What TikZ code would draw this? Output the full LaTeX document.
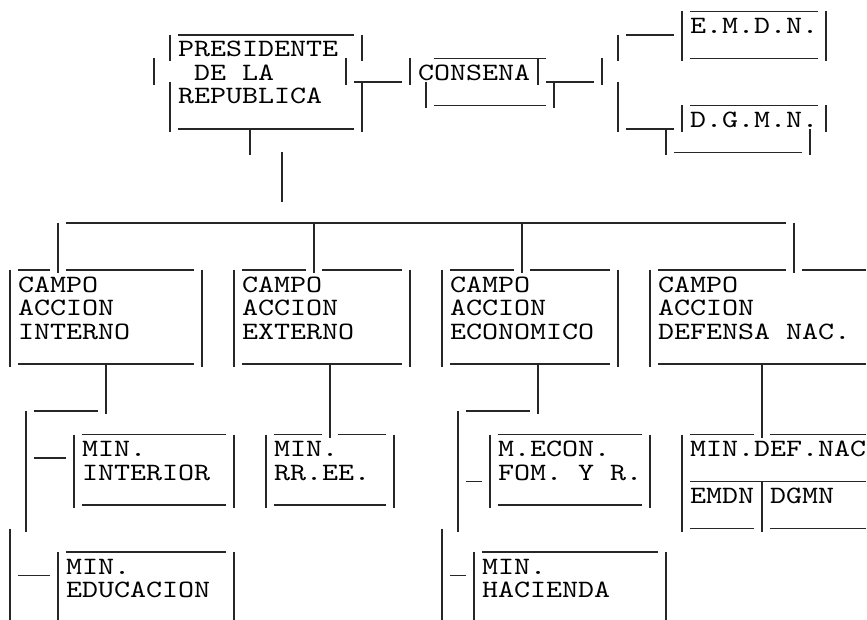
\documentclass[tikz,border=0pt]{standalone}
\usepackage{fontspec}
\newfontfamily\monofnt[FakeStretch=1.224]{lmmono10-regular.otf}
\tikzset{
  vb/.style={line width=1.05pt, draw=black!85},
  ub/.style={line width=0.8pt, draw=black!85},
  tx/.style={anchor=base west, inner sep=0pt, outer sep=0pt, text height=11pt, text depth=0pt, font=\monofnt\fontsize{18.7}{18.7}\selectfont, text=black}
}
\begin{document}
\begin{tikzpicture}[x={(0.75pt,0)}, y={(0,-0.75pt)}]
\clip (0,0) rectangle (867,620);
\fill[white] (0,0) rectangle (867,620);
% texts: name/col/row/text
\foreach \n/\c/\r/\t in {
  pres1/11/1/PRESIDENTE, pres2/12/2/DE LA, pres3/11/3/REPUBLICA,
  consena/26/2/CONSENA, emdn/43/0/E.M.D.N., dgmn/43/4/D.G.M.N.,
  cin1/1/11/CAMPO, cin2/1/12/ACCION, cin3/1/13/INTERNO,
  cex1/15/11/CAMPO, cex2/15/12/ACCION, cex3/15/13/EXTERNO,
  cec1/28/11/CAMPO, cec2/28/12/ACCION, cec3/28/13/ECONOMICO,
  cdn1/41/11/CAMPO, cdn2/41/12/ACCION, cdn3/41/13/DEFENSA NAC.,
  mint1/5/18/MIN., mint2/5/19/INTERIOR,
  mrree1/17/18/MIN., mrree2/17/19/RR.EE.,
  mecon1/31/18/M.ECON., mecon2/31/19/FOM. Y R.,
  mdef/43/18/MIN.DEF.NAC, emdn2/43/20/EMDN, dgmn2/48/20/DGMN,
  medu1/4/23/MIN., medu2/4/24/EDUCACION,
  mhac1/30/23/MIN., mhac2/30/24/HACIENDA}
  \node[tx] (\n) at ({2+16*\c},{33.5+23.5*(\r)}) {\t};
% vertical bars: col/first row/last row
\foreach \c/\a/\b in {
  10/1/1, 22/1/1, 9/2/2, 21/2/2, 25/2/2, 33/2/2, 37/2/2,
  10/3/4, 22/3/4, 26/3/3, 34/3/3, 38/1/1, 38/3/4,
  42/0/1, 51/0/1, 42/4/4, 51/4/4, 41/5/5, 50/5/5,
  15/5/5, 17/6/7,
  3/9/10, 19/9/10, 32/9/10, 49/9/10,
  0/11/14, 12/11/14, 14/11/14, 25/11/14, 27/11/14, 38/11/14, 40/11/14,
  6/15/16, 20/15/17, 33/15/16, 47/15/17,
  1/17/21, 4/18/20, 14/18/20, 16/18/20, 24/18/20,
  28/17/21, 30/18/20, 40/18/20, 42/18/21, 47/20/21,
  0/22/25, 3/23/25, 14/23/25, 27/22/25, 29/23/25, 41/23/25}
  \draw[vb] ({10+16*\c},{11.5+23.5*(\a)}) -- ({10+16*\c},{14.5+23.5*(\b+1)});
% underscores: first col/last col/row
\foreach \a/\b/\r in {
  11/21/0, 11/21/4, 22/24/2, 27/33/1, 27/33/3, 34/36/2,
  39/41/0, 43/50/-1, 43/50/1, 43/50/3, 39/41/4, 42/49/5,
  4/48/8,
  1/2/10, 4/11/10, 15/18/10, 20/24/10, 28/31/10, 33/37/10, 41/48/10, 50/53/10,
  1/11/14, 15/24/14, 28/37/14, 41/53/14,
  2/5/16, 29/32/16,
  5/13/17, 17/19/17, 21/23/17, 31/39/17, 43/46/17, 48/53/17,
  2/3/18, 29/29/19, 43/53/19,
  5/13/20, 17/23/20, 31/39/20,
  43/46/21, 48/53/21,
  4/13/22, 30/40/22, 1/2/23, 28/28/23}
  \draw[ub] ({2+16*\a},{35+23.5*(\r)}) -- ({2+16*(\b+1)},{35+23.5*(\r)});
\end{tikzpicture}
\end{document}
